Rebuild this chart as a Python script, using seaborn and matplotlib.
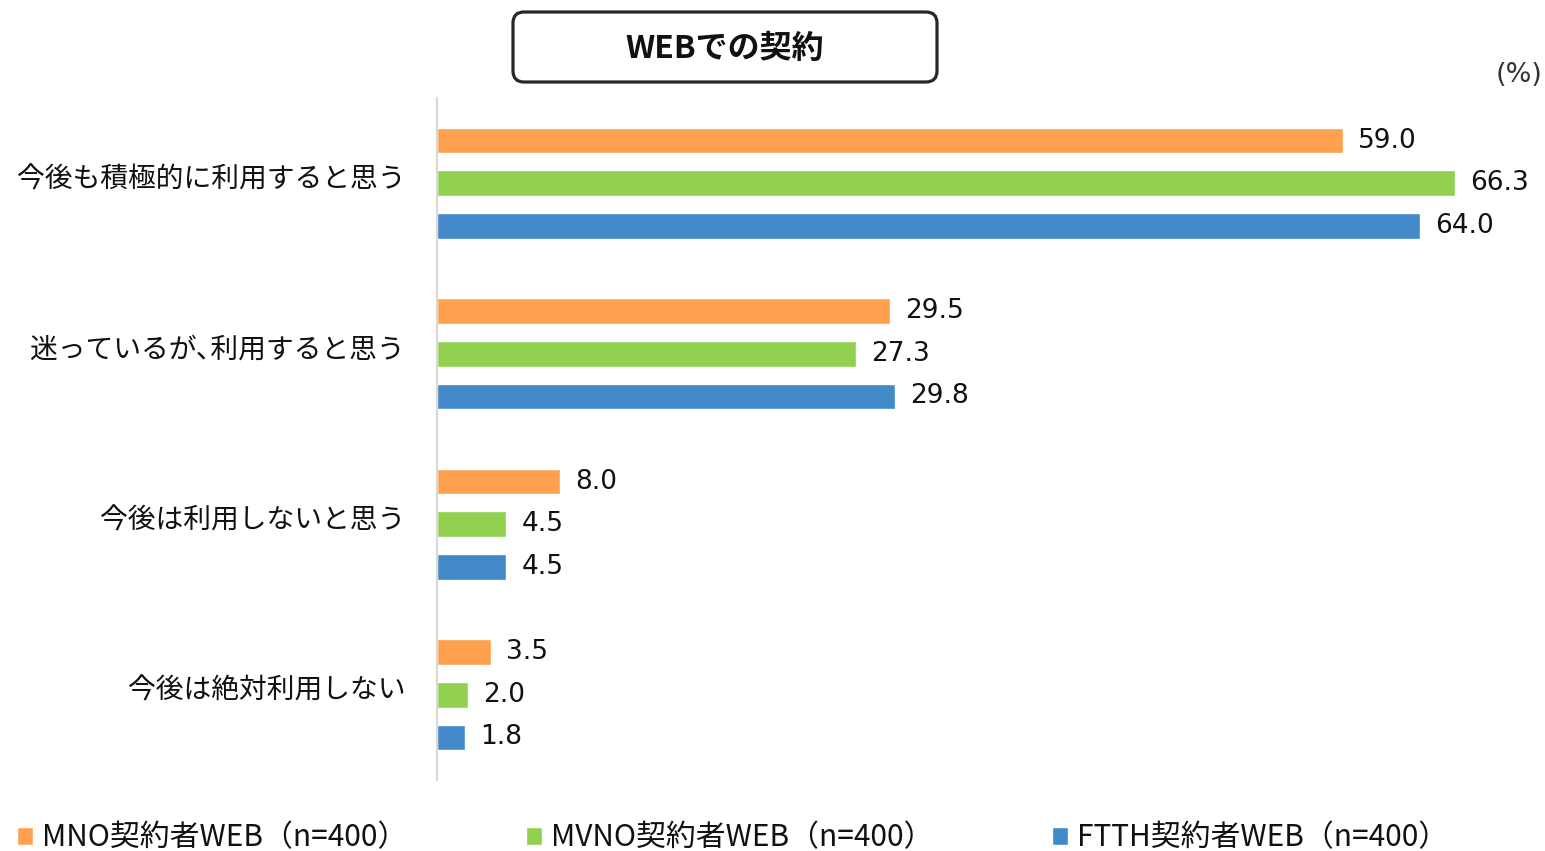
import matplotlib
matplotlib.use("Agg")
import matplotlib.pyplot as plt
import matplotlib.transforms as mtransforms
from matplotlib.patches import FancyBboxPatch
import pandas as pd
import seaborn as sns

# Survey answers and the share (%) of each respondent group
categories = ["今後も積極的に利用すると思う", "迷っているが､利用すると思う",
              "今後は利用しないと思う", "今後は絶対利用しない"]
series = ["MNO契約者WEB（n=400）", "MVNO契約者WEB（n=400）", "FTTH契約者WEB（n=400）"]
mno_web = [59.0, 29.5, 8.0, 3.5]
mvno_web = [66.3, 27.3, 4.5, 2.0]
ftth_web = [64.0, 29.8, 4.5, 1.8]
colors = ["#FFA14E", "#92D050", "#4289C8"]
title = "WEBでの契約"
unit = "(%)"

df = pd.DataFrame({
    "answer": categories * 3,
    "group": [series[0]] * 4 + [series[1]] * 4 + [series[2]] * 4,
    "value": mno_web + mvno_web + ftth_web,
})

sns.set_theme(style="white")
plt.rcParams["font.family"] = ["DejaVu Sans", "Noto Sans CJK JP"]
cjk = ["Noto Sans CJK JP", "DejaVu Sans"]

W, H = 1545, 851
fig = plt.figure(figsize=(W / 100, H / 100), dpi=100)
ax = fig.add_axes([437 / W, 1 - 780 / H, (1512 - 437) / W, (780 - 98) / H])

sns.barplot(data=df, y="answer", x="value", hue="group", order=categories,
            hue_order=series, palette=colors, orient="h", width=0.75, gap=0.4,
            saturation=1, ax=ax)

for cont in ax.containers:
    ax.bar_label(cont, fmt="%.1f", padding=11, fontsize=19, color="#111111")

ax.set_xlim(0, 70)
ax.set_xlabel("")
ax.set_ylabel("")
ax.set_xticks([])
for s in ["top", "right", "bottom"]:
    ax.spines[s].set_visible(False)
ax.spines["left"].set_color("#D9D9D9")
ax.spines["left"].set_linewidth(1.6)
ax.tick_params(axis="y", length=0, labelleft=False)

# Category names to the left of the axis, nudged up to sit on the group centre
label_tf = mtransforms.blended_transform_factory(ax.transAxes, ax.transData) + \
    mtransforms.ScaledTranslation(-32 / 100, 4 / 100, fig.dpi_scale_trans)
for i, name in enumerate(categories):
    ax.text(0, i, name, transform=label_tf, ha="right", va="center",
            fontsize=20, family=cjk, color="#111111")

sns.move_legend(ax, "center left", bbox_to_anchor=(17 / W, 13 / H),
                bbox_transform=fig.transFigure, ncol=3, frameon=False,
                title=None, fontsize=21.5, columnspacing=3.95,
                handlelength=0.55, handleheight=0.55, handletextpad=0.3,
                borderaxespad=0, borderpad=0)
for t in ax.get_legend().get_texts():
    t.set_fontfamily(cjk)
    t.set_color("#111111")

# Title box
box = FancyBboxPatch((513, H - 82), 424, 70,
                     boxstyle="round,pad=0,rounding_size=11",
                     transform=None, facecolor="white", edgecolor="#262626",
                     linewidth=2.3)
fig.patches.append(box)
fig.text(725 / W, 1 - 49 / H, title, ha="center", va="center", fontsize=23,
         fontweight="bold", family=cjk, color="#111111")

fig.text(1543 / W, 1 - 75 / H, unit, ha="right", va="center", fontsize=19.5,
         color="#333333")

fig.savefig("out.png", dpi=100)
